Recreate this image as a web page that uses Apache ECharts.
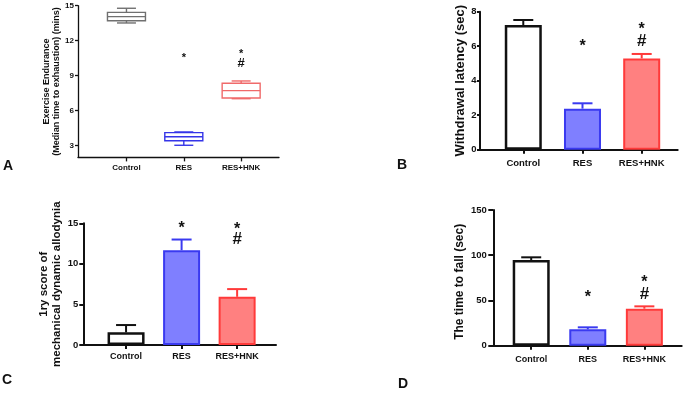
<!DOCTYPE html>
<html><head><meta charset="utf-8">
<script src="https://cdn.jsdelivr.net/npm/echarts@6/dist/echarts.min.js"></script>
<style>html,body{margin:0;padding:0;background:#fff}#c{width:685px;height:395px}</style>
</head><body><div id="c"></div>
<script>
const categories = ['Control', 'RES', 'RES+HNK'];
// Panel A box plot: [min, q1, median, q3, max]
const boxA = [[13.52, 13.71, 14.06, 14.43, 14.78], [3.04, 3.43, 3.77, 4.12, 4.18], [7.03, 7.09, 7.72, 8.35, 8.55]];
const meanB = [7.23, 2.38, 5.29];
const errB = [0.29, 0.31, 0.26];
const meanC = [1.56, 11.68, 5.94];
const errC = [0.90, 1.32, 0.95];
const meanD = [94.7, 18.1, 40.9];
const errD = [3.0, 2.2, 2.6];
const ticksA = [3, 6, 9, 12, 15];
const ticksB = [0, 2, 4, 6, 8];
const ticksC = [0, 5, 10, 15];
const ticksD = [0, 50, 100, 150];
// significance marks: [category index, value, symbol]
const marksA = [[1, 10.69, '*'], [2, 11.06, '*'], [2, 10.09, '#']];
const marksB = [[1, 6.2, '*'], [2, 7.17, '*'], [2, 6.26, '#']];
const marksC = [[1, 14.79, '*'], [2, 14.67, '*'], [2, 13.03, '#']];
const marksD = [[1, 56.9, '*'], [2, 73.8, '*'], [2, 56.9, '#']];

const FONT = '"Liberation Sans", Arial, sans-serif';
const fills = ['#ffffff', '#7f7fff', '#ff8080'];
const strokes = ['#111111', '#3a3af0', '#ff3a3a'];
const boxStrokes = ['#707070', '#3535e8', '#f06a6a'];

const chart = echarts.init(document.getElementById('c'), null, {renderer: 'canvas'});

function xAxisCfg(gi, min, max, fs, margin, lw) {
  return {
    type: 'value', gridIndex: gi, min: min, max: max,
    splitLine: {show: false},
    axisLine: {show: true, onZero: false, lineStyle: {color: '#111', width: lw}},
    axisTick: {show: true, customValues: [1, 2, 3], length: 4, lineStyle: {color: '#111', width: lw}},
    axisLabel: {customValues: [1, 2, 3], margin: margin, fontSize: fs, fontWeight: 'bold', fontFamily: FONT, color: '#111',
      formatter: v => categories[Math.round(v) - 1]}
  };
}
function yAxisCfg(gi, min, max, ticks, fs, margin, lw, name, nfs, ngap, nlh, tlen, npad) {
  return {
    type: 'value', gridIndex: gi, min: min, max: max,
    splitLine: {show: false},
    axisLine: {show: true, onZero: false, lineStyle: {color: '#111', width: lw}},
    axisTick: {show: true, customValues: ticks, length: tlen, lineStyle: {color: '#111', width: lw}},
    axisLabel: {customValues: ticks, margin: margin, fontSize: fs, fontWeight: 'bold', fontFamily: FONT, color: '#111'},
    name: name, nameLocation: 'middle', nameRotate: 90, nameGap: ngap,
    nameTextStyle: {fontSize: nfs, fontWeight: 'bold', fontFamily: FONT, color: '#111', lineHeight: nlh, padding: npad || 0}
  };
}

function barSeries(gi, means) {
  return {
    type: 'bar', xAxisIndex: gi, yAxisIndex: gi, barWidth: 37, z: 3,
    data: means.map((v, i) => ({value: [i + 1, v], itemStyle: {color: fills[i], borderColor: strokes[i], borderWidth: i === 0 ? 2.5 : 2}}))
  };
}
function errSeries(gi, means, errs) {
  return {
    type: 'custom', xAxisIndex: gi, yAxisIndex: gi, z: 2,
    data: means.map((v, i) => [i + 1, v, v + errs[i]]),
    renderItem: function (params, api) {
      const i = params.dataIndex;
      const b = api.coord([api.value(0), api.value(1)]);
      const t = api.coord([api.value(0), api.value(2)]);
      const st = {stroke: strokes[i], lineWidth: 2};
      return {type: 'group', children: [
        {type: 'line', shape: {x1: b[0], y1: b[1], x2: t[0], y2: t[1]}, style: st},
        {type: 'line', shape: {x1: t[0] - 10, y1: t[1], x2: t[0] + 10, y2: t[1]}, style: st}
      ]};
    }
  };
}
function markSeries(gi, marks, starFs, hashFs) {
  return {
    type: 'custom', xAxisIndex: gi, yAxisIndex: gi, z: 5,
    data: marks.map(m => [m[0] + 1, m[1], m[2]]),
    renderItem: function (params, api) {
      const m = marks[params.dataIndex];
      const p = api.coord([api.value(0), api.value(1)]);
      const isStar = m[2] === '*';
      return {type: 'text', x: p[0], y: p[1] + (isStar ? starFs * 0.22 : 0),
        style: {text: m[2], fontSize: isStar ? starFs : hashFs, fontWeight: 'bold', fontFamily: FONT,
          fill: '#111', align: 'center', verticalAlign: 'middle'}};
    }
  };
}

const boxSeries = {
  type: 'custom', xAxisIndex: 0, yAxisIndex: 0, z: 3,
  data: boxA.map((b, i) => [i + 1].concat(b)),
  renderItem: function (params, api) {
    const i = params.dataIndex;
    const x = api.value(0);
    const pMin = api.coord([x, api.value(1)]);
    const pQ1 = api.coord([x, api.value(2)]);
    const pMed = api.coord([x, api.value(3)]);
    const pQ3 = api.coord([x, api.value(4)]);
    const pMax = api.coord([x, api.value(5)]);
    const hw = 19, cw = 9.5;
    const st = {stroke: boxStrokes[i], lineWidth: 1.4, fill: 'none'};
    const cx = pMed[0];
    return {type: 'group', children: [
      {type: 'rect', shape: {x: cx - hw, y: pQ3[1], width: hw * 2, height: pQ1[1] - pQ3[1]}, style: {stroke: boxStrokes[i], lineWidth: 1.4, fill: '#fff'}},
      {type: 'line', shape: {x1: cx - hw, y1: pMed[1], x2: cx + hw, y2: pMed[1]}, style: st},
      {type: 'line', shape: {x1: cx, y1: pQ3[1], x2: cx, y2: pMax[1]}, style: st},
      {type: 'line', shape: {x1: cx - cw, y1: pMax[1], x2: cx + cw, y2: pMax[1]}, style: st},
      {type: 'line', shape: {x1: cx, y1: pQ1[1], x2: cx, y2: pMin[1]}, style: st},
      {type: 'line', shape: {x1: cx - cw, y1: pMin[1], x2: cx + cw, y2: pMin[1]}, style: st}
    ]};
  }
};

const letterStyle = (t, x, y) => ({type: 'text', x: x, y: y,
  style: {text: t, fontSize: 14, fontWeight: 'bold', fontFamily: FONT, fill: '#111', align: 'center', verticalAlign: 'middle'}});

chart.setOption({
  animation: false,
  backgroundColor: '#fff',
  grid: [
    {left: 78, top: 5.7, width: 201, height: 151.7, outerBoundsMode: 'none'},
    {left: 480, top: 11.7, width: 197.7, height: 138, outerBoundsMode: 'none'},
    {left: 83.3, top: 223.3, width: 192.7, height: 121.7, outerBoundsMode: 'none'},
    {left: 493.3, top: 210, width: 188.4, height: 135.7, outerBoundsMode: 'none'}
  ],
  xAxis: [
    xAxisCfg(0, 0.155, 3.66, 8, 6, 1.3),
    xAxisCfg(1, 0.269, 3.608, 9.5, 8.5, 2),
    xAxisCfg(2, 0.23, 3.70, 9, 7, 2),
    xAxisCfg(3, 0.33, 3.66, 9, 9, 2)
  ],
  yAxis: [
    yAxisCfg(0, 2, 15, ticksA, 8, 4, 1.3, 'Exercise Endurance\n(Median time to exhaustion) (mins)', 9, 13, 10, 3),
    yAxisCfg(1, 0, 8, ticksB, 9.5, 3.5, 2, 'Withdrawal latency (sec)', 13, 12, 14, 3),
    yAxisCfg(2, 0, 15, ticksC, 9.5, 5, 2, '1ry score of\nmechanical dynamic allodynia', 11.5, 17, 13.3, 4),
    yAxisCfg(3, 0, 150, ticksD, 9.5, 6.5, 2, 'The time to fall (sec)', 12, 27, 14, 5, [0, 8, 0, 0])
  ],
  series: [
    boxSeries,
    markSeries(0, marksA, 11, 13),
    errSeries(1, meanB, errB), barSeries(1, meanB), markSeries(1, marksB, 16, 17),
    errSeries(2, meanC, errC), barSeries(2, meanC), markSeries(2, marksC, 16, 17),
    errSeries(3, meanD, errD), barSeries(3, meanD), markSeries(3, marksD, 16, 17)
  ],
  graphic: [
    letterStyle('A', 8, 166),
    letterStyle('B', 402, 165),
    letterStyle('C', 7, 380),
    letterStyle('D', 403, 384)
  ]
});
</script>
</body></html>
